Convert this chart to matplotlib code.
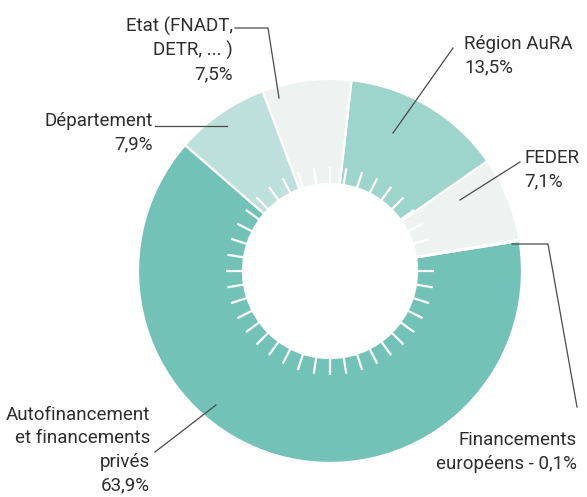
import numpy as np
import matplotlib.pyplot as plt

# parts du financement (%), dans l'ordre du trace (sens anti-horaire)
categories = ["Autofinancement et financements privés", "Financements européens",
              "FEDER", "Région AuRA", "Etat (FNADT, DETR, ... )", "Département"]
valeurs = [63.9, 0.1, 7.1, 13.5, 7.5, 7.9]
couleurs = ["#73c2b8", "#5fb5aa", "#eef2f1", "#9dd4cb", "#eef2f1", "#bde0dc"]

etiquettes = ["Autofinancement\net financements\nprivés\n63,9%",
              "Financements\neuropéens - 0,1%",
              "FEDER\n7,1%",
              "Région AuRA\n13,5%",
              "Etat (FNADT,\nDETR, ... )\n7,5%",
              "Département\n7,9%"]

W, H = 587, 497
n_traits = 40

plt.rcParams['font.family'] = ['Roboto', 'DejaVu Sans']

fig = plt.figure(figsize=(W / 100, H / 100), dpi=100)
ax = fig.add_axes([0, 0, 1, 1])


def px(x, y):
    # coordonnees image (origine en haut a gauche) -> axes
    return x, H - y


cx, cy = px(330, 271)
r_ext, r_int = 192, 87

ax.pie(valeurs, colors=couleurs, startangle=139, counterclock=True,
       center=(cx, cy), radius=r_ext, frame=True,
       wedgeprops=dict(width=r_ext - r_int, edgecolor='white', linewidth=1.6))
ax.set_xlim(0, W)
ax.set_ylim(0, H)
ax.axis('off')

# petits traits blancs autour du trou central
for k in range(n_traits):
    a = np.deg2rad(k * 360 / n_traits)
    ax.plot([cx + (r_int - 2) * np.cos(a), cx + 104 * np.cos(a)],
            [cy + (r_int - 2) * np.sin(a), cy + 104 * np.sin(a)],
            color='white', lw=1.6, solid_capstyle='butt')

# etiquettes : (x, y centre du bloc, alignement)
pos = [(150, 450, 'right'), (577, 452, 'right'), (524, 170, 'left'),
       (464, 56, 'left'), (233, 50, 'right'), (153, 133, 'right')]
for txt, (x, y, ha) in zip(etiquettes, pos):
    ax.text(*px(x, y), txt, ha=ha, va='center', ma=ha, fontsize=13.5,
            color='#2e2e2e', linespacing=1.38)

# traits de rappel
rappels = [[(155, 452), (216, 405)],
           [(512, 244), (548, 244), (577, 407)],
           [(520, 162), (460, 200)],
           [(453, 48), (393, 133)],
           [(235, 28), (268, 28), (279, 98)],
           [(155, 126), (227, 126)]]
for pts in rappels:
    xs, ys = zip(*[px(x, y) for x, y in pts])
    ax.plot(xs, ys, color='#4a4a4a', lw=0.9)

fig.savefig('out.png', dpi=100, facecolor='white')
